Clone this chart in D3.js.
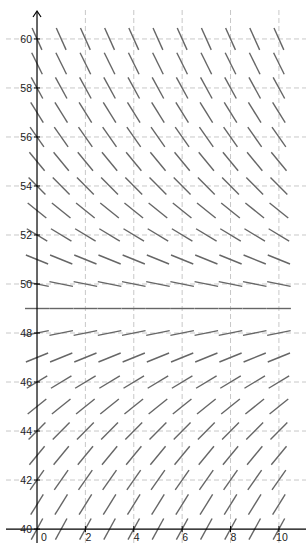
<!DOCTYPE html>
<html>
<head>
<meta charset="utf-8">
<script src="https://cdn.jsdelivr.net/npm/d3@7"></script>
<style>
body{margin:0;background:#fff;}
svg{display:block;}
</style>
</head>
<body>
<div id="field_div"></div>
<script>
////////////////////////////////////////
// data
////////////////////////////////////////

var field_t = [0,1,2,3,4,5,6,7,8,9,10];
var field_y = [40,41,42,43,44,45,46,47,48,49,50,51,52,53,54,55,56,57,58,59,60];
// slope at each y level (same for every t)
var field_slope = [1.8,1.6,1.4,1.2,1.0,0.8,0.6,0.4,0.2,0,-0.2,-0.4,-0.6,-0.8,-1.0,-1.2,-1.4,-1.6,-1.8,-2.0,-2.2];

var xTicks = [0,2,4,6,8,10];
var yTicks = [40,42,44,46,48,50,52,54,56,58,60];
var xGrid = [2,4,6,8,10];
var yGrid = [42,44,46,48,50,52,54,56,58,60];

////////////////////////////////////////

var field_w = 306;
var field_h = 543;

var x = d3.scaleLinear().domain([-1.53,11.12]).range([0,field_w]);
var y = d3.scaleLinear().domain([39.43,61.59]).range([field_h,0]);

var field_vis = d3.select('#field_div')
	.append('svg')
	.attr('width',field_w)
	.attr('height',field_h);

// grid
field_vis.selectAll('line.vgrid')
	.data(xGrid)
	.enter()
		.append('line')
		.attr('class','vgrid')
		.attr('x1',function(d){ return x(d); })
		.attr('x2',function(d){ return x(d); })
		.attr('y1',10)
		.attr('y2',field_h)
		.attr('stroke','#c8c8c8')
		.attr('stroke-width',1)
		.attr('stroke-dasharray','5,3');

field_vis.selectAll('line.hgrid')
	.data(yGrid)
	.enter()
		.append('line')
		.attr('class','hgrid')
		.attr('x1',6)
		.attr('x2',field_w)
		.attr('y1',function(d){ return y(d); })
		.attr('y2',function(d){ return y(d); })
		.attr('stroke','#c8c8c8')
		.attr('stroke-width',1)
		.attr('stroke-dasharray','5,3');

// slope segments
var seg_len = 24;
var cells = [];
field_y.forEach(function(yy,i){
	field_t.forEach(function(tt){
		cells.push({t:tt, y:yy, m:field_slope[i]});
	});
});

function segEnd(d,sign){
	// direction in pixel space
	var dx = x(d.t+1)-x(d.t);
	var dy = y(d.y+d.m)-y(d.y);
	var len = Math.sqrt(dx*dx+dy*dy);
	return [x(d.t)+sign*dx/len*seg_len/2, y(d.y)+sign*dy/len*seg_len/2];
}

field_vis.selectAll('line.seg')
	.data(cells)
	.enter()
		.append('line')
		.attr('class','seg')
		.attr('x1',function(d){ return segEnd(d,-1)[0]; })
		.attr('y1',function(d){ return segEnd(d,-1)[1]; })
		.attr('x2',function(d){ return segEnd(d,1)[0]; })
		.attr('y2',function(d){ return segEnd(d,1)[1]; })
		.attr('stroke','#666')
		.attr('stroke-width',1.4)
		.attr('stroke-linecap','butt');

// axes
var xAxisY = y(40);
var yAxisX = x(0);

field_vis.append('line')
	.attr('x1',6).attr('x2',field_w)
	.attr('y1',xAxisY).attr('y2',xAxisY)
	.attr('stroke','#000').attr('stroke-width',1.2);

field_vis.append('line')
	.attr('x1',yAxisX).attr('x2',yAxisX)
	.attr('y1',12).attr('y2',field_h)
	.attr('stroke','#000').attr('stroke-width',1.2);

field_vis.append('path')
	.attr('d','M'+(yAxisX-4)+',17 L'+yAxisX+',11 L'+(yAxisX+4)+',17')
	.attr('fill','none')
	.attr('stroke','#000')
	.attr('stroke-width',1.2);

// ticks
field_vis.selectAll('line.xtick')
	.data(xTicks.slice(1))
	.enter()
		.append('line')
		.attr('x1',function(d){ return x(d); })
		.attr('x2',function(d){ return x(d); })
		.attr('y1',xAxisY-3).attr('y2',xAxisY+3)
		.attr('stroke','#000');

field_vis.selectAll('line.ytick')
	.data(yTicks)
	.enter()
		.append('line')
		.attr('x1',yAxisX-3).attr('x2',yAxisX+3)
		.attr('y1',function(d){ return y(d); })
		.attr('y2',function(d){ return y(d); })
		.attr('stroke','#000');

// labels
field_vis.selectAll('text.xlab')
	.data(xTicks)
	.enter()
		.append('text')
		.attr('x',function(d){
			if(d===0) return x(d)+7;
			return x(d)+3;
		})
		.attr('y',xAxisY+12)
		.attr('text-anchor','middle')
		.attr('font-family','Liberation Sans, Arial, sans-serif')
		.attr('font-size',10.5)
		.attr('fill','#222')
		.text(function(d){ return d; });

field_vis.selectAll('text.ylab')
	.data(yTicks)
	.enter()
		.append('text')
		.attr('x',yAxisX-5)
		.attr('y',function(d){ return y(d)+4; })
		.attr('text-anchor','end')
		.attr('font-family','Liberation Sans, Arial, sans-serif')
		.attr('font-size',10.5)
		.attr('fill','#222')
		.text(function(d){ return d; });
</script>
</body>
</html>
